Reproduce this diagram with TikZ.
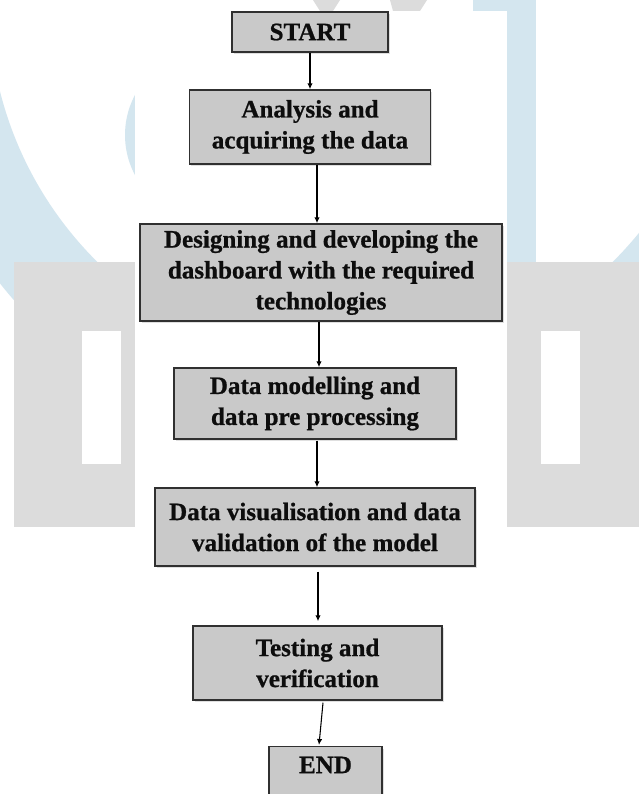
\documentclass[tikz,border=0pt]{standalone}
\usepackage{fontspec}
\setmainfont{Liberation Serif}
\newfontfamily\boxfont{Liberation Serif}[BoldFeatures={FakeBold=0.8}]
\usetikzlibrary{calc,shadows,arrows.meta}
\definecolor{wmblue}{RGB}{212,230,239}
\definecolor{wmgray}{RGB}{220,220,220}
\definecolor{boxfill}{RGB}{201,201,201}
\definecolor{boxline}{RGB}{48,48,48}
\begin{document}
\begin{tikzpicture}[x=0.75pt,y=-0.75pt,
  stepbox/.style={draw=boxline, line width=1.1pt, fill=boxfill,
    drop shadow={shadow xshift=1.2pt, shadow yshift=-1.4pt, opacity=0.25},
    align=center, inner sep=0pt, text=black!95,
    font=\boxfont\bfseries\fontsize{18.8}{23.2}\selectfont},
  arr/.style={draw=black, line width=0.8pt, -{Latex[length=4.5pt,width=4pt]}}]
\useasboundingbox (0,0) rectangle (639,794);
\clip (0,0) rectangle (639,794);
% background watermark
\fill[white] (0,0) rectangle (639,794);
\fill[wmblue, even odd rule] (355,2) circle[radius=453] (355,2) circle[radius=366];
\fill[wmblue] (210,135) circle[radius=85];
\fill[wmblue] (473,0) rectangle (536,262);
\fill[wmgray] (313,0) -- (340,0) -- (333,11) -- (320,11) -- cycle;
\fill[wmgray] (390,0) -- (427,0) -- (420,11) -- (393,11) -- cycle;
\fill[wmgray] (14,262) rectangle (639,527);
\fill[white] (82,331) rectangle (121,464);
\fill[white] (541,331) rectangle (580,464);
\fill[white] (135,11) rectangle (507,794);
% boxes
\node[stepbox, minimum width={156*0.75pt}, minimum height={40*0.75pt}] (start) at (310,32) {START};
\node[stepbox, minimum width={241*0.75pt}, minimum height={74*0.75pt}] (analysis) at (310,127) {Analysis and\\acquiring the data};
\node[stepbox, minimum width={362*0.75pt}, minimum height={97*0.75pt}] (design) at (321,272.5) {Designing and developing the\\dashboard with the required\\technologies};
\node[stepbox, minimum width={282*0.75pt}, minimum height={71*0.75pt}] (model) at (315,403.5) {Data modelling and\\data pre processing};
\node[stepbox, minimum width={320*0.75pt}, minimum height={78*0.75pt}] (vis) at (315,527) {Data visualisation and data\\validation of the model};
\node[stepbox, minimum width={249*0.75pt}, minimum height={74*0.75pt}] (test) at (317.5,663) {Testing and\\verification};
\node[stepbox, anchor=north, minimum width={113*0.75pt}, inner ysep={10*0.75pt}, text depth={40*0.75pt}] (end) at (325.5,746) {END};
% connectors
\draw[arr] (start.south) -- (analysis.north);
\draw[arr] ($(analysis.south)+(7,0)$) -- ($(design.north)+(-4,0)$);
\draw[arr] ($(design.south)+(-2,0)$) -- ($(model.north)+(4,0)$);
\draw[arr] ($(model.south)+(2,1)$) -- ($(vis.north)+(2,0)$);
\draw[arr] ($(vis.south)+(3,5)$) -- ($(test.north)+(0.5,-4)$);
\draw[arr] ($(test.south)+(5.5,2)$) -- ($(end.north)+(-6.5,-1)$);
\end{tikzpicture}
\end{document}
